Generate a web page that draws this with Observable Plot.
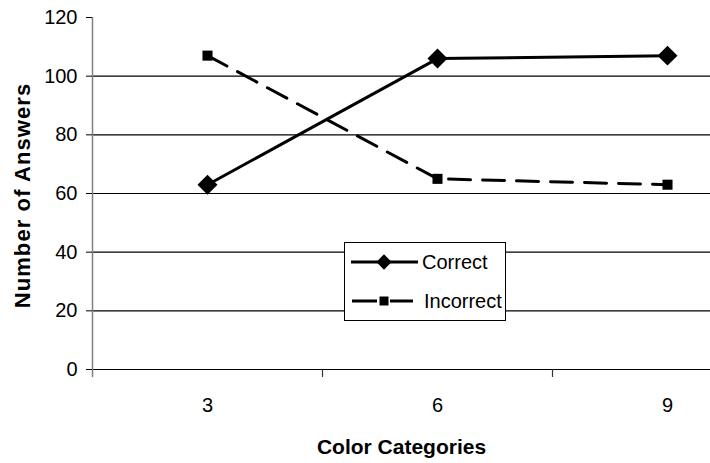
<!DOCTYPE html>
<html>
<head>
<meta charset="utf-8">
<script src="https://cdn.jsdelivr.net/npm/d3@7"></script>
<script src="https://cdn.jsdelivr.net/npm/@observablehq/plot@0.6"></script>
<style>
  html, body { margin: 0; padding: 0; background: #fff; }
  #wrap { position: relative; width: 710px; height: 463px; font-family: "Liberation Sans", Arial, sans-serif; }
  #legend { position: absolute; left: 344px; top: 242px; width: 160px; height: 77px; border: 1px solid #000; background: #fff; }
</style>
</head>
<body>
<div id="wrap"></div>
<script>
const categories = [3, 6, 9];
const correct = [63, 106, 107];
const incorrect = [107, 65, 63];
const yTicks = [0, 20, 40, 60, 80, 100, 120];
const gridTicks = [20, 40, 60, 80, 100];
const seriesNames = ["Correct", "Incorrect"];
const xTitle = "Color Categories";
const yTitle = "Number of Answers";

const data = [
  ...categories.map((c, i) => ({cat: c, value: correct[i], series: "Correct"})),
  ...categories.map((c, i) => ({cat: c, value: incorrect[i], series: "Incorrect"}))
];
const cDat = data.filter(d => d.series === "Correct");
const iDat = data.filter(d => d.series === "Incorrect");

const W = 710, H = 463;
const xDomain = [categories[0] - 1.5, categories[categories.length - 1] + 1.5];
const bandEdges = [xDomain[0], categories[0] + 1.5, categories[1] + 1.5];

const chart = Plot.plot({
  width: W,
  height: H,
  marginLeft: 92,
  marginRight: 0,
  marginTop: 17,
  marginBottom: 94,
  style: {fontFamily: '"Liberation Sans", Arial, sans-serif', fontSize: "20px", background: "#fff", color: "#000"},
  x: {domain: xDomain, range: [92, 782], label: null},
  y: {domain: [0, 120], label: null},
  marks: [
    Plot.gridY(gridTicks, {stroke: "#000", strokeOpacity: 1, strokeWidth: 1.2}),
    Plot.ruleY([0], {stroke: "#000", strokeWidth: 1.2}),
    Plot.ruleX([xDomain[0]], {y1: 0, y2: 120, stroke: "#808080", strokeWidth: 1.5}),
    Plot.axisX(bandEdges.slice(1), {tickSize: 8, tickFormat: () => "", label: null, stroke: "#333", strokeWidth: 1.2}),
    Plot.axisX([xDomain[0]], {tickSize: 8, tickFormat: () => "", label: null, stroke: "#808080", strokeWidth: 1.5}),
    Plot.axisX(categories, {tickSize: 0, tickPadding: 28, label: null, fontSize: 20}),
    Plot.axisY(yTicks, {tickSize: 6, tickPadding: 9, label: null, stroke: "#000", fontSize: 20}),
    Plot.line(cDat, {x: "cat", y: "value", stroke: "#000", strokeWidth: 3}),
    Plot.line(iDat, {x: "cat", y: "value", stroke: "#000", strokeWidth: 3, strokeDasharray: "22,12"}),
    Plot.dot(cDat, {x: "cat", y: "value", symbol: "diamond2", r: 9, fill: "#000", stroke: "none"}),
    Plot.dot(iDat, {x: "cat", y: "value", symbol: "square2", r: 6.4, fill: "#000", stroke: "none"}),
    Plot.text([xTitle], {frameAnchor: "bottom", dy: 78, text: d => d, fontWeight: "bold", fontSize: 21, lineAnchor: "middle", textAnchor: "middle"}),
    Plot.text([yTitle], {frameAnchor: "left", dx: -70, dy: 2, text: d => d, fontWeight: "bold", fontSize: 22, rotate: -90, lineAnchor: "middle", textAnchor: "middle", className: "ytitle"})
  ]
});

d3.select(chart).selectAll(".ytitle text").style("letter-spacing", "1.1px");

const wrap = document.getElementById("wrap");
wrap.appendChild(chart);

// Legend
const legend = document.createElement("div");
legend.id = "legend";
wrap.appendChild(legend);
const lsvg = d3.select(legend).append("svg").attr("width", 160).attr("height", 77)
  .style("position", "absolute").style("left", "0").style("top", "0");
const rows = [
  {name: seriesNames[0], y: 19, dash: false, sym: d3.symbolDiamond2, size: 150, tx: 77},
  {name: seriesNames[1], y: 58, dash: true, sym: d3.symbolSquare, size: 81, tx: 79}
];
rows.forEach(r => {
  const g = lsvg.append("g");
  if (r.dash) {
    g.append("line").attr("x1", 7).attr("x2", 32).attr("y1", r.y).attr("y2", r.y).attr("stroke", "#000").attr("stroke-width", 3);
    g.append("line").attr("x1", 45).attr("x2", 68).attr("y1", r.y).attr("y2", r.y).attr("stroke", "#000").attr("stroke-width", 3);
  } else {
    g.append("line").attr("x1", 6).attr("x2", 73).attr("y1", r.y).attr("y2", r.y).attr("stroke", "#000").attr("stroke-width", 3);
  }
  g.append("path").attr("d", d3.symbol(r.sym, r.size)()).attr("transform", `translate(39,${r.y})`).attr("fill", "#000");
  g.append("text").attr("x", r.tx).attr("y", r.y).attr("dy", "0.35em").attr("font-size", 20)
    .attr("font-family", '"Liberation Sans", Arial, sans-serif').text(r.name);
});
</script>
</body>
</html>
